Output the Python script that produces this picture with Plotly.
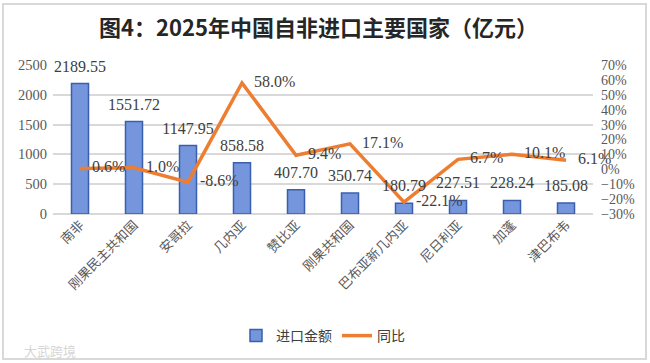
import plotly.graph_objects as go

categories = ["南非", "刚果民主共和国", "安哥拉", "几内亚", "赞比亚", "刚果共和国",
              "巴布亚新几内亚", "尼日利亚", "加蓬", "津巴布韦"]
import_values = [2189.55, 1551.72, 1147.95, 858.58, 407.70, 350.74, 180.79, 227.51, 228.24, 185.08]
yoy_values = [0.006, 0.010, -0.086, 0.580, 0.094, 0.171, -0.221, 0.067, 0.101, 0.061]
left_ticks = [0, 500, 1000, 1500, 2000, 2500]
right_ticks = [-0.3, -0.2, -0.1, 0.0, 0.1, 0.2, 0.3, 0.4, 0.5, 0.6, 0.7]

serif = "Liberation Serif, Times New Roman, Noto Sans CJK SC, serif"
cjk = "Noto Sans CJK SC, sans-serif"

L, R, T, B = 53, 57, 65, 149
W, H = 650, 363
pw, ph = W - L - R, H - T - B

def px_x(p):
    return (p - L) / pw

def px_y(p):
    return (H - B - p) / ph

# small lift of the value labels above the bar top, in data units of the left axis
lift = 8 / ph * 2500

fig = go.Figure()
fig.add_trace(go.Bar(
    x=categories, y=import_values, name="进口金额",
    marker=dict(color="#7596dc", line=dict(color="#3a5fae", width=1.5)),
    width=0.315,
))
fig.add_trace(go.Scatter(
    x=categories, y=import_values, yaxis="y3", mode="text", showlegend=False,
    text=[f"{v:.2f}" for v in import_values], textposition="top center",
    textfont=dict(family=serif, size=16, color="#404040"), cliponaxis=False,
    hoverinfo="skip",
))
fig.add_trace(go.Scatter(
    x=categories, y=yoy_values, name="同比", yaxis="y2", mode="lines+text",
    line=dict(color="#ED7D31", width=3.5),
    text=["\u00a0\u00a0\u00a0" + f"{v*100:.1f}%" for v in yoy_values], textposition="middle right",
    textfont=dict(family=serif, size=16, color="#404040"),
    cliponaxis=False,
))

fig.update_layout(
    width=W, height=H,
    margin=dict(l=L, r=R, t=T, b=B, autoexpand=False),
    paper_bgcolor="white", plot_bgcolor="white",
    title=dict(text="<b>图4：2025年中国自非进口主要国家（亿元）</b>",
               x=318.5 / W, xanchor="center", y=1 - 28.5 / H, yanchor="middle",
               font=dict(family=cjk, size=22, color="#262626")),
    xaxis=dict(tickangle=-45, tickfont=dict(family=cjk, size=13, color="#595959"),
               showline=False, showgrid=False, ticks="", automargin=False),
    yaxis=dict(range=[0, 2500], tickvals=left_ticks, automargin=False,
               tickfont=dict(family=serif, size=14.5, color="#595959"),
               ticklabelstandoff=5,
               gridcolor="#d9d9d9", gridwidth=1.5, zeroline=True, zerolinecolor="#d9d9d9",
               zerolinewidth=1.5, showline=False),
    yaxis2=dict(range=[-0.3, 0.7], tickvals=right_ticks, tickformat=".0%",
                overlaying="y", side="right", showgrid=False, zeroline=False,
                automargin=False, ticklabelstandoff=7,
                tickfont=dict(family=serif, size=14, color="#595959")),
    yaxis3=dict(range=[-lift, 2500 - lift], overlaying="y", visible=False),
    showlegend=True,
    legend=dict(orientation="h", x=0.5, xanchor="center", y=px_y(336), yanchor="middle",
                font=dict(family=cjk, size=14, color="#404040"),
                itemwidth=30, tracegroupgap=0),
    shapes=[dict(type="rect", xref="paper", yref="paper",
                 x0=px_x(3), x1=px_x(646), y0=px_y(359), y1=px_y(4),
                 line=dict(color="#d9d9d9", width=2), fillcolor="rgba(0,0,0,0)", layer="below")],
    annotations=[dict(text="大武跨境", xref="paper", yref="paper",
                      x=px_x(22), y=px_y(350), xanchor="left", yanchor="middle",
                      showarrow=False, font=dict(family=cjk, size=13, color="#d6d6d6"))],
)

fig.write_html("out.html", post_script="document.body.style.margin='0';",
               config={"displayModeBar": False})
